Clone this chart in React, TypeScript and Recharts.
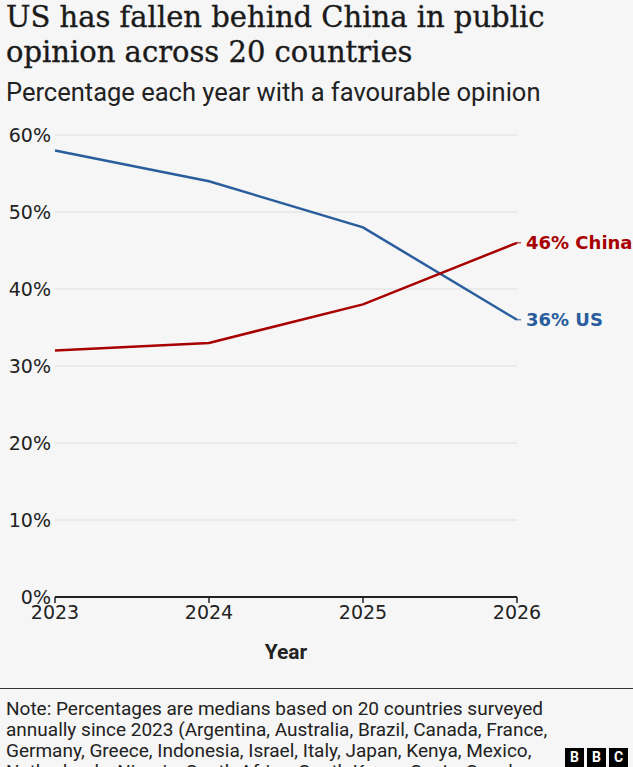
import { LineChart, Line, XAxis, YAxis, CartesianGrid } from "recharts";

const years = ["2023", "2024", "2025", "2026"];
const usValues = [58, 54, 48, 36];
const chinaValues = [32, 33, 38, 46];
const yTicks = [0, 10, 20, 30, 40, 50, 60];

const US_BLUE = "#2a5d9c";
const CHINA_RED = "#a80000";
const SANS = "Roboto, 'Noto Sans', sans-serif";
const WIDE = "'DejaVu Sans', sans-serif";
const SERIF = "'DejaVu Serif', serif";

const data = years.map((year, i) => ({
  year,
  us: usValues[i],
  china: chinaValues[i],
}));

const noteLines = [
  "Note: Percentages are medians based on 20 countries surveyed",
  "annually since 2023 (Argentina, Australia, Brazil, Canada, France,",
  "Germany, Greece, Indonesia, Israel, Italy, Japan, Kenya, Mexico,",
  "Netherlands, Nigeria, South Africa, South Korea, Spain, Sweden,",
];

const YTick = (props: any) => {
  const { y, payload } = props;
  return (
    <text
      x={51}
      y={y}
      dy={7}
      textAnchor="end"
      fontSize={19}
      fontFamily={WIDE}
      fill="#222"
    >
      {payload.value}%
    </text>
  );
};

const endLabel = (text: string, color: string) => (props: any) => {
  const { x, y, index } = props;
  if (index !== years.length - 1) return null;
  return (
    <g>
      <line x1={x} y1={y} x2={x + 4} y2={y} stroke={color} strokeWidth={1} />
      <text
        x={x + 9}
        y={y}
        dy={6.5}
        fontSize={18}
        fontWeight={700}
        fontFamily={WIDE}
        fill={color}
      >
        {text}
      </text>
    </g>
  );
};

const BbcLogo = () => (
  <div style={{ position: "absolute", left: 565, top: 748, display: "flex", gap: 3 }}>
    {["B", "B", "C"].map((c, i) => (
      <div
        key={i}
        style={{
          width: 19,
          height: 19,
          background: "#000",
          color: "#fff",
          fontFamily: SANS,
          fontWeight: 700,
          fontSize: 14,
          lineHeight: "19px",
          textAlign: "center",
        }}
      >
        {c}
      </div>
    ))}
  </div>
);

export default function App() {
  return (
    <div
      style={{
        position: "absolute",
        left: 0,
        top: 0,
        width: 633,
        height: 767,
        overflow: "hidden",
        background: "#f6f6f6",
        color: "#222",
      }}
    >
      <div
        style={{
          position: "absolute",
          left: 6,
          top: 0,
          fontFamily: SERIF,
          fontSize: 29,
          lineHeight: "35px",
          color: "#1a1a1a",
          WebkitTextStroke: "0.35px #1a1a1a",
          whiteSpace: "nowrap",
        }}
      >
        <div>US has fallen behind China in public</div>
        <div>opinion across 20 countries</div>
      </div>
      <div
        style={{
          position: "absolute",
          left: 6,
          top: 77,
          fontFamily: SANS,
          fontSize: 25.5,
          lineHeight: "30px",
          color: "#222",
          whiteSpace: "nowrap",
        }}
      >
        Percentage each year with a favourable opinion
      </div>

      <div style={{ position: "absolute", left: 0, top: 110 }}>
        <LineChart
          width={633}
          height={570}
          data={data}
          margin={{ top: 25, right: 116, bottom: 0, left: 6 }}
        >
          <CartesianGrid vertical={false} stroke="#dedede" strokeWidth={1} />
          <XAxis
            dataKey="year"
            axisLine={{ stroke: "#222", strokeWidth: 2 }}
            tickLine={{ stroke: "#222", strokeWidth: 1.5 }}
            tickSize={6}
            tick={{ fontSize: 19, fontFamily: WIDE, fill: "#222" }}
            tickMargin={3}
            height={83}
            label={{
              value: "Year",
              position: "insideBottom",
              offset: 21,
              fontSize: 21,
              fontWeight: 700,
              fontFamily: SANS,
              fill: "#222",
            }}
          />
          <YAxis
            domain={[0, 60]}
            ticks={yTicks}
            axisLine={false}
            tickLine={false}
            width={49}
            tick={<YTick />}
          />
          <Line
            dataKey="us"
            stroke={US_BLUE}
            strokeWidth={2.5}
            dot={false}
            isAnimationActive={false}
            label={endLabel("36% US", US_BLUE)}
          />
          <Line
            dataKey="china"
            stroke={CHINA_RED}
            strokeWidth={2.5}
            dot={false}
            isAnimationActive={false}
            label={endLabel("46% China", CHINA_RED)}
          />
        </LineChart>
      </div>

      <div
        style={{
          position: "absolute",
          left: 0,
          top: 688,
          width: 633,
          height: 1,
          background: "#333",
        }}
      />
      <div
        style={{
          position: "absolute",
          left: 6,
          top: 698,
          fontFamily: SANS,
          fontSize: 19,
          lineHeight: "21px",
          color: "#222",
          whiteSpace: "nowrap",
        }}
      >
        {noteLines.map((l, i) => (
          <div key={i}>{l}</div>
        ))}
      </div>
      <BbcLogo />
    </div>
  );
}
